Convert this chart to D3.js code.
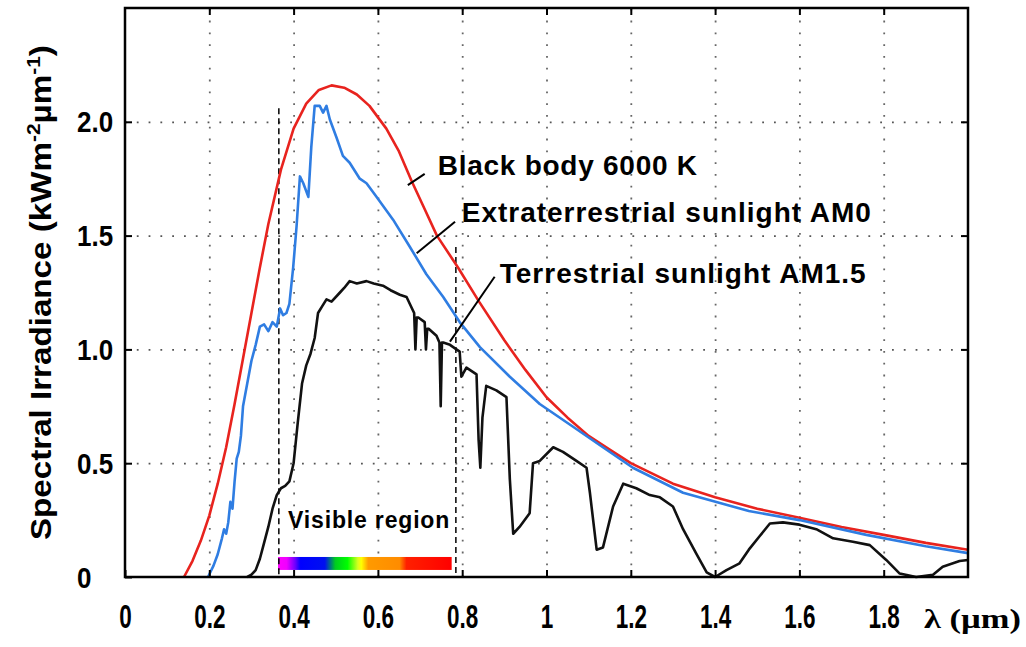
<!DOCTYPE html>
<html><head><meta charset="utf-8">
<script src="https://cdn.jsdelivr.net/npm/d3@7"></script>
<style>
html,body{margin:0;padding:0;background:#fff;}
svg{display:block;}
</style></head><body>
<svg id="chart" width="1026" height="647"></svg>
<script>
// ---------- data ----------
const bbWavelength = [0.14,0.16,0.18,0.20,0.22,0.24,0.26,0.28,0.30,0.32,0.34,0.37,0.40,0.43,0.46,0.49,0.52,0.55,0.58,0.62,0.65,0.68,0.71,0.74,0.79,0.84,0.90,0.95,1.00,1.05,1.10,1.15,1.20,1.30,1.40,1.50,1.60,1.70,1.80,1.90,2.00];
const bbIrradiance = [0,0.07,0.16,0.27,0.41,0.57,0.76,0.96,1.16,1.36,1.55,1.79,1.97,2.08,2.14,2.16,2.15,2.12,2.07,1.97,1.87,1.74,1.62,1.50,1.36,1.21,1.04,0.91,0.79,0.70,0.62,0.56,0.50,0.41,0.35,0.30,0.26,0.22,0.185,0.15,0.12];

const am0Wavelength = [0.197,0.21,0.22,0.23,0.235,0.24,0.245,0.25,0.255,0.26,0.265,0.27,0.275,0.28,0.29,0.30,0.31,0.32,0.33,0.34,0.35,0.36,0.368,0.375,0.383,0.39,0.399,0.407,0.415,0.423,0.435,0.442,0.45,0.462,0.47,0.478,0.486,0.502,0.517,0.533,0.557,0.573,0.597,0.636,0.676,0.715,0.755,0.794,0.842,0.913,0.984,1.063,1.126,1.205,1.324,1.48,1.60,1.759,1.90,2.0];
const am0Irradiance = [0,0.05,0.10,0.17,0.21,0.19,0.24,0.33,0.30,0.42,0.52,0.55,0.62,0.75,0.85,0.95,1.02,1.10,1.11,1.08,1.12,1.10,1.18,1.15,1.16,1.20,1.36,1.54,1.76,1.73,1.67,1.89,2.07,2.07,2.04,2.07,2.01,1.93,1.85,1.82,1.75,1.73,1.67,1.57,1.45,1.33,1.23,1.12,1.01,0.88,0.76,0.66,0.58,0.48,0.37,0.29,0.25,0.185,0.135,0.105];

const am15Wavelength = [0.29,0.30,0.31,0.32,0.33,0.34,0.35,0.36,0.37,0.38,0.39,0.40,0.41,0.42,0.43,0.44,0.45,0.458,0.468,0.478,0.49,0.51,0.52,0.533,0.55,0.573,0.59,0.612,0.63,0.652,0.668,0.686,0.689,0.692,0.696,0.711,0.714,0.717,0.721,0.739,0.746,0.749,0.752,0.755,0.771,0.794,0.798,0.81,0.834,0.839,0.843,0.848,0.857,0.881,0.905,0.913,0.921,0.936,0.96,0.968,0.984,1.016,1.039,1.071,1.095,1.103,1.119,1.134,1.158,1.182,1.213,1.245,1.269,1.30,1.324,1.356,1.38,1.40,1.427,1.458,1.48,1.506,1.53,1.561,1.60,1.64,1.68,1.727,1.767,1.806,1.838,1.877,1.917,1.94,1.98,2.0];
const am15Irradiance = [0,0.01,0.03,0.08,0.15,0.22,0.30,0.36,0.39,0.40,0.42,0.50,0.68,0.85,0.93,0.98,1.05,1.16,1.19,1.22,1.21,1.25,1.27,1.30,1.29,1.30,1.29,1.28,1.26,1.24,1.23,1.16,1.0,1.14,1.14,1.12,1.0,1.09,1.09,1.06,1.03,0.75,1.03,1.03,1.02,0.99,0.88,0.92,0.89,0.6,0.48,0.7,0.84,0.82,0.79,0.43,0.19,0.22,0.28,0.50,0.51,0.57,0.55,0.51,0.48,0.37,0.12,0.13,0.31,0.41,0.39,0.36,0.35,0.31,0.21,0.10,0.02,0.0,0.03,0.06,0.12,0.18,0.235,0.24,0.23,0.21,0.17,0.155,0.14,0.075,0.015,0.0,0.01,0.045,0.07,0.075];

const xTickValues = [0,0.2,0.4,0.6,0.8,1.0,1.2,1.4,1.6,1.8];
const xTickLabels = ["0","0.2","0.4","0.6","0.8","1","1.2","1.4","1.6","1.8"];
const yTickValues = [0,0.5,1.0,1.5,2.0];
const yTickLabels = ["0","0.5","1.0","1.5","2.0"];

const seriesNames = ["Black body 6000 K","Extraterrestrial sunlight AM0","Terrestrial sunlight AM1.5"];
const visibleRange = [0.365, 0.785];       // µm, dashed boundary lines
const visibleLineTop = [2.06, 1.45];       // kW m^-2 µm^-1
const visibleBarRange = [0.363, 0.775];
const visibleLabel = "Visible region";

// ---------- layout ----------
const W = 1026, H = 647;
const x = d3.scaleLinear().domain([0, 2]).range([125, 968]);
const y = d3.scaleLinear().domain([0, 2.5]).range([577, 8]);
const svg = d3.select('#chart');
const FONT = '"Liberation Sans", Arial, sans-serif';

svg.append('rect').attr('width', W).attr('height', H).attr('fill', '#fff');

// grid
const gx = svg.append('g').attr('transform', `translate(0,${y(0)})`)
  .call(d3.axisBottom(x).tickValues(xTickValues.slice(1)).tickSize(-(y(0) - y(2.5))).tickFormat(''));
gx.select('.domain').remove();
gx.selectAll('line').attr('stroke', '#666').attr('stroke-width', 1.8).attr('stroke-dasharray', '1.8,10');
const gy = svg.append('g').attr('transform', `translate(${x(0)},0)`)
  .call(d3.axisLeft(y).tickValues(yTickValues.slice(1)).tickSize(-(x(2) - x(0))).tickFormat(''));
gy.select('.domain').remove();
gy.selectAll('line').attr('stroke', '#555').attr('stroke-width', 1.8).attr('stroke-dasharray', '1.8,10');

// visible region bar with gradient
const spectrumStops = [
  [0.00, '#ff00ff'], [0.05, '#f000ff'], [0.10, '#6a00ff'], [0.13, '#0000ff'], [0.27, '#0010f0'],
  [0.33, '#00cc20'], [0.40, '#00ff00'], [0.46, '#d8ff20'], [0.48, '#ffff00'], [0.52, '#ff9a00'],
  [0.70, '#ff8c00'], [0.74, '#ff2000'], [1.00, '#ff0000']
];
const grad = svg.append('defs').append('linearGradient').attr('id', 'spec')
  .attr('x1', '0%').attr('x2', '100%').attr('y1', '0%').attr('y2', '0%');
spectrumStops.forEach(s => grad.append('stop').attr('offset', s[0]).attr('stop-color', s[1]));
svg.append('rect')
  .attr('x', x(visibleBarRange[0])).attr('width', x(visibleBarRange[1]) - x(visibleBarRange[0]))
  .attr('y', y(0.088)).attr('height', y(0.031) - y(0.088))
  .attr('fill', 'url(#spec)');

// dashed visible boundaries
svg.append('g').selectAll('line').data(visibleRange).join('line')
  .attr('x1', d => x(d)).attr('x2', d => x(d))
  .attr('y1', (d, i) => y(visibleLineTop[i])).attr('y2', y(0))
  .attr('stroke', '#000').attr('stroke-width', 1.5).attr('stroke-dasharray', '6,4');

// curves
const line = d3.line().x(d => x(d[0])).y(d => y(d[1]));
const curves = [
  {wl: bbWavelength, v: bbIrradiance, color: '#e8231e'},
  {wl: am0Wavelength, v: am0Irradiance, color: '#2f7de2'},
  {wl: am15Wavelength, v: am15Irradiance, color: '#111'}
];
curves.forEach(c => {
  svg.append('path').datum(d3.zip(c.wl, c.v)).attr('d', line)
    .attr('fill', 'none').attr('stroke', c.color).attr('stroke-width', 2.6)
    .attr('stroke-linejoin', 'round');
});

// frame
svg.append('rect').attr('x', x(0)).attr('y', y(2.5)).attr('width', x(2) - x(0)).attr('height', y(0) - y(2.5))
  .attr('fill', 'none').attr('stroke', '#000').attr('stroke-width', 2.5);

// ticks (inward, all sides)
const T = 7;
const bAx = svg.append('g').attr('transform', `translate(0,${y(0)})`)
  .call(d3.axisBottom(x).tickValues(xTickValues).tickSizeInner(-T).tickSizeOuter(0).tickFormat((d, i) => xTickLabels[i]));
bAx.select('.domain').remove();
bAx.selectAll('line').attr('stroke', '#000').attr('stroke-width', 2);
bAx.selectAll('text').attr('y', 0).attr('dy', 0)
  .attr('transform', 'translate(0,51) scale(0.9,1.3)')
  .attr('font-family', FONT).attr('font-weight', 'bold').attr('font-size', 25).attr('fill', '#000');

svg.append('g').attr('transform', `translate(0,${y(2.5)})`)
  .call(d3.axisTop(x).tickValues(xTickValues.slice(1)).tickSizeInner(-T).tickSizeOuter(0).tickFormat(''))
  .call(g => { g.select('.domain').remove(); g.selectAll('line').attr('stroke', '#000').attr('stroke-width', 2); });
svg.append('g').attr('transform', `translate(${x(2)},0)`)
  .call(d3.axisRight(y).tickValues(yTickValues.slice(1)).tickSizeInner(-T).tickSizeOuter(0).tickFormat(''))
  .call(g => { g.select('.domain').remove(); g.selectAll('line').attr('stroke', '#000').attr('stroke-width', 2); });

const lAx = svg.append('g').attr('transform', `translate(${x(0)},0)`)
  .call(d3.axisLeft(y).tickValues(yTickValues).tickSizeInner(-T).tickSizeOuter(0).tickFormat((d, i) => yTickLabels[i]));
lAx.select('.domain').remove();
lAx.selectAll('line').attr('stroke', '#000').attr('stroke-width', 2);
lAx.selectAll('text').attr('x', 0).attr('dy', 0).attr('text-anchor', 'start')
  .attr('transform', 'translate(-48,10) scale(1,1.1)')
  .attr('font-family', FONT).attr('font-weight', 'bold').attr('font-size', 26).attr('fill', '#000');

// x-axis unit
const lam = svg.append('text').attr('font-family', '"Liberation Serif", "Times New Roman", serif')
  .attr('font-weight', 'bold').attr('font-size', 27).attr('fill', '#000').text('λ (µm)');
{
  const w = lam.node().getComputedTextLength();
  lam.attr('transform', `translate(924,628) scale(${97 / w},1.05)`);
}

// y-axis title
const yt = svg.append('text').attr('font-family', FONT).attr('font-weight', 'bold')
  .attr('font-size', 30).attr('fill', '#000');
yt.append('tspan').text('Spectral Irradiance (kWm');
yt.append('tspan').attr('font-size', 19).attr('dy', -11).text('-2');
yt.append('tspan').attr('dy', 11).text('µm');
yt.append('tspan').attr('font-size', 19).attr('dy', -11).text('-1');
yt.append('tspan').attr('dy', 11).text(')');
{
  const w = yt.node().getComputedTextLength();
  yt.attr('transform', `translate(51,540) rotate(-90) scale(${495 / w},1)`);
}

// annotations
const annoText = [
  {t: seriesNames[0], at: [0.742, 1.766], w: 260, from: [0.671, 1.722], to: [0.711, 1.771]},
  {t: seriesNames[1], at: [0.799, 1.56], w: 410, from: [0.692, 1.422], to: [0.783, 1.561]},
  {t: seriesNames[2], at: [0.889, 1.292], w: 367, from: [0.771, 1.034], to: [0.877, 1.319]}
];
annoText.forEach(a => {
  svg.append('line').attr('x1', x(a.from[0])).attr('y1', y(a.from[1]))
    .attr('x2', x(a.to[0])).attr('y2', y(a.to[1])).attr('stroke', '#000').attr('stroke-width', 2);
  const t = svg.append('text').attr('x', x(a.at[0])).attr('y', y(a.at[1]))
    .attr('font-family', FONT).attr('font-weight', 'bold').attr('font-size', 28).attr('fill', '#000').text(a.t);
  const n = t.node().getComputedTextLength();
  t.attr('letter-spacing', (a.w - n) / a.t.length);
});

const vt = svg.append('text').attr('x', x(0.387)).attr('y', y(0.215))
  .attr('font-family', FONT).attr('font-weight', 'bold').attr('font-size', 23).attr('fill', '#000').text(visibleLabel);
{
  const n = vt.node().getComputedTextLength();
  vt.attr('letter-spacing', (162 - n) / visibleLabel.length);
}
</script>
</body></html>
